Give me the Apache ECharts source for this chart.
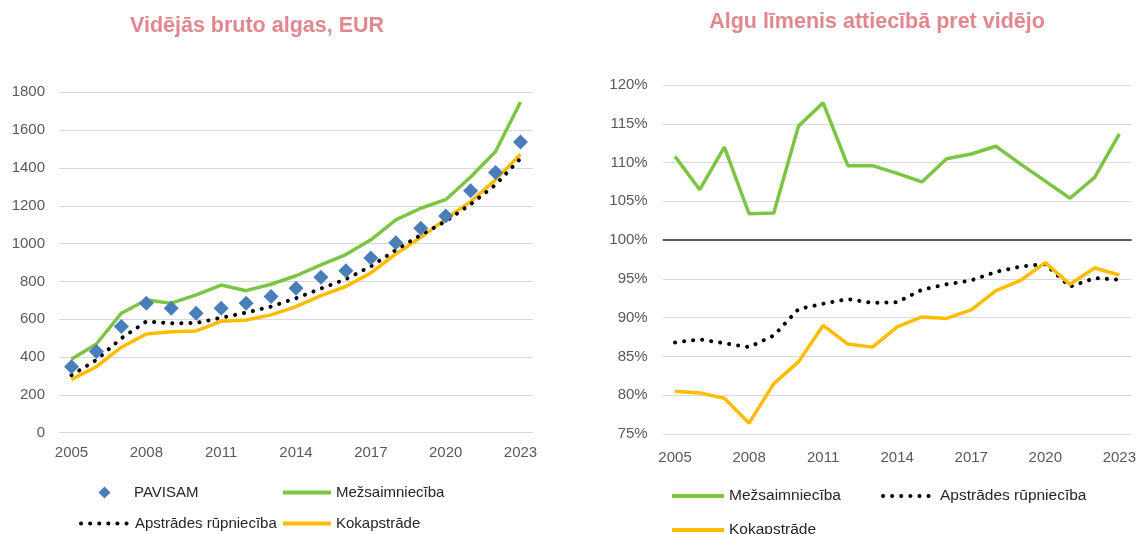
<!DOCTYPE html>
<html>
<head>
<meta charset="utf-8">
<script src="https://cdn.jsdelivr.net/npm/echarts@6/dist/echarts.min.js"></script>
<style>
  html, body { margin: 0; padding: 0; background: #fff; }
  #chart { width: 1139px; height: 534px; }
</style>
</head>
<body>
<div id="chart"></div>
<script>
// gadi
const years = ['2005', '2006', '2007', '2008', '2009', '2010', '2011', '2012', '2013', '2014',
  '2015', '2016', '2017', '2018', '2019', '2020', '2021', '2022', '2023']

// vidējās bruto algas, EUR
const pavisam = [349, 429, 561, 685, 658, 632, 658, 685, 720, 764, 822, 856, 924, 1005, 1081, 1146, 1280, 1376, 1537]
const mezsEur = [388, 469, 632, 702, 685, 729, 781, 751, 785, 830, 887, 942, 1020, 1125, 1187, 1232, 1352, 1487, 1749]
const apstrEur = [304, 385, 499, 588, 579, 580, 608, 635, 667, 711, 762, 812, 880, 966, 1045, 1118, 1208, 1311, 1450]
const kokaEur = [282, 349, 452, 522, 534, 538, 589, 596, 623, 667, 725, 773, 845, 945, 1032, 1131, 1222, 1337, 1472]

// algu līmenis attiecībā pret vidējo, %
const mezsPct = [110.8, 106.5, 112.0, 103.4, 103.5, 114.7, 117.7, 109.6, 109.6, 108.6,
  107.5, 110.5, 111.1, 112.1, 109.8, 107.6, 105.4, 108.1, 113.7]
const apstrPct = [86.8, 87.2, 86.7, 86.2, 87.7, 91.1, 91.8, 92.4, 91.9, 92.0,
  93.6, 94.3, 94.8, 95.9, 96.6, 96.9, 94.0, 95.1, 94.9]
const kokaPct = [80.5, 80.3, 79.6, 76.4, 81.5, 84.3, 89.0, 86.6, 86.2, 88.8,
  90.1, 89.9, 91.0, 93.5, 94.8, 97.1, 94.3, 96.4, 95.5]

const GREEN = '#7CC444'
const ORANGE = '#FFBC00'
const BLUE = '#4A7EBB'
const TITLE = '#E0878F'
const AXIS_TXT = '#595959'
const FONT = 'Liberation Sans'

const chart = echarts.init(document.getElementById('chart'), null, { renderer: 'canvas' })

function xAxis(gridIndex, margin) {
  return {
    type: 'category',
    gridIndex: gridIndex,
    data: years,
    boundaryGap: true,
    axisLine: { show: false },
    axisTick: { show: false },
    axisLabel: { interval: 2, color: AXIS_TXT, fontSize: 15, fontFamily: FONT, margin: margin }
  }
}

// leģenda tikai ar līniju (bez apļa vidū)
function lineLegend(names, left, top, itemWidth, fontSize) {
  return {
    data: names,
    left: left,
    top: top,
    orient: 'vertical',
    padding: 0,
    itemWidth: itemWidth,
    itemHeight: 14,
    selectedMode: false,
    itemStyle: { opacity: 0 },
    lineStyle: { width: 4 },
    textStyle: { color: '#262626', fontSize: fontSize, fontFamily: FONT }
  }
}

const dotted = { color: '#000', width: 4, type: [0.1, 9], cap: 'round' }

chart.setOption({
  animation: false,
  title: [
    {
      text: 'Vidējās bruto algas, EUR',
      left: 257, top: 15, textAlign: 'center', padding: 0,
      textStyle: { color: TITLE, fontSize: 21.5, fontWeight: 'bold', fontFamily: FONT }
    },
    {
      text: 'Algu līmenis attiecībā pret vidējo',
      left: 877, top: 11, textAlign: 'center', padding: 0,
      textStyle: { color: TITLE, fontSize: 21.5, fontWeight: 'bold', fontFamily: FONT }
    }
  ],
  legend: [
    {
      data: [{ name: 'PAVISAM', lineStyle: { opacity: 0 } }],
      left: 79, top: 485, padding: 0, itemWidth: 49, itemHeight: 15, selectedMode: false,
      textStyle: { color: '#262626', fontSize: 15, fontFamily: FONT }
    },
    lineLegend(['Apstrādes rūpniecība'], 79, 516, 49, 15),
    lineLegend(['Mežsaimniecība'], 281, 485, 48, 15),
    lineLegend(['Kokapstrāde'], 281, 516, 48, 15),
    lineLegend(['Mežsaimniecība'], 670, 488, 52, 15.5),
    lineLegend(['Apstrādes rūpniecība'], 881, 488, 52, 15.5),
    lineLegend(['Kokapstrāde'], 670, 522, 52, 15.5)
  ],
  grid: [
    { left: 59, top: 92.3, width: 474, height: 340.4 },
    { left: 662.7, top: 85, width: 470, height: 349 }
  ],
  xAxis: [xAxis(0, 13), xAxis(1, 16)],
  yAxis: [
    {
      type: 'value', gridIndex: 0, min: 0, max: 1800, interval: 200,
      axisLine: { show: false }, axisTick: { show: false },
      axisLabel: { color: AXIS_TXT, fontSize: 15, fontFamily: FONT, margin: 14, formatter: v => String(v) },
      splitLine: { lineStyle: { color: '#D9D9D9', width: 1 } }
    },
    {
      type: 'value', gridIndex: 1, min: 75, max: 120, interval: 5,
      axisLine: { show: false }, axisTick: { show: false },
      axisLabel: { color: AXIS_TXT, fontSize: 15, fontFamily: FONT, margin: 15, formatter: '{value}%' },
      splitLine: { lineStyle: { color: '#D9D9D9', width: 1 } }
    }
  ],
  series: [
    // kreisais grafiks
    {
      name: 'Mežsaimniecība', type: 'line', xAxisIndex: 0, yAxisIndex: 0, data: mezsEur,
      symbol: 'none', lineStyle: { color: GREEN, width: 3.5 }, itemStyle: { color: GREEN }, z: 2
    },
    {
      name: 'Apstrādes rūpniecība', type: 'line', xAxisIndex: 0, yAxisIndex: 0, data: apstrEur,
      symbol: 'none', lineStyle: dotted, itemStyle: { color: '#000' }, z: 3
    },
    {
      name: 'Kokapstrāde', type: 'line', xAxisIndex: 0, yAxisIndex: 0, data: kokaEur,
      symbol: 'none', lineStyle: { color: ORANGE, width: 3.5 }, itemStyle: { color: ORANGE }, z: 2
    },
    {
      name: 'PAVISAM', type: 'line', xAxisIndex: 0, yAxisIndex: 0, data: pavisam,
      symbol: 'diamond', symbolSize: 15, showSymbol: true,
      lineStyle: { opacity: 0 }, itemStyle: { color: BLUE }, z: 5
    },
    // labais grafiks
    {
      name: 'Mežsaimniecība', type: 'line', xAxisIndex: 1, yAxisIndex: 1, data: mezsPct,
      symbol: 'none', lineStyle: { color: GREEN, width: 3.5 }, itemStyle: { color: GREEN },
      markLine: {
        silent: true, symbol: 'none', label: { show: false },
        lineStyle: { color: '#595959', width: 2, type: 'solid' },
        data: [{ yAxis: 100 }]
      }
    },
    {
      name: 'Apstrādes rūpniecība', type: 'line', xAxisIndex: 1, yAxisIndex: 1, data: apstrPct,
      symbol: 'none', lineStyle: dotted, itemStyle: { color: '#000' }
    },
    {
      name: 'Kokapstrāde', type: 'line', xAxisIndex: 1, yAxisIndex: 1, data: kokaPct,
      symbol: 'none', lineStyle: { color: ORANGE, width: 3.5 }, itemStyle: { color: ORANGE }, z: 3
    }
  ]
})
</script>
</body>
</html>
